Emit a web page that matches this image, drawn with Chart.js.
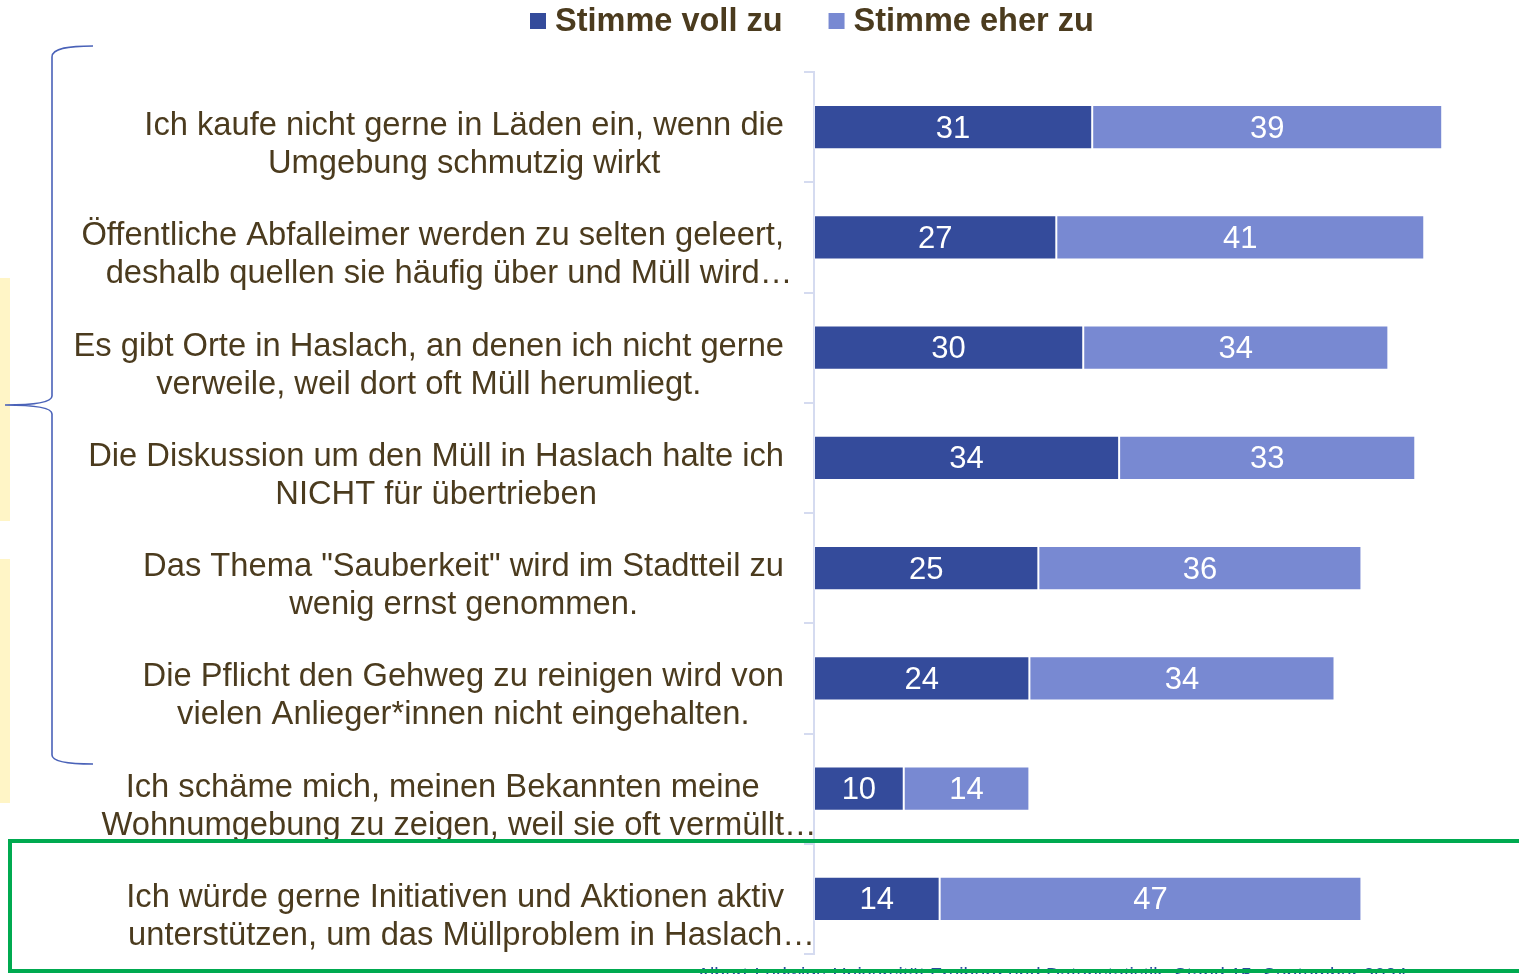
<!DOCTYPE html>
<html>
<head>
<meta charset="utf-8">
<script src="https://cdn.jsdelivr.net/npm/chart.js@4/dist/chart.umd.min.js"></script>
<style>
  body { margin: 0; background: #fff; }
  #wrap { width: 1519px; height: 974px; position: relative; }
</style>
</head>
<body>
<div id="wrap"><canvas id="chart" width="1519" height="974"></canvas></div>
<script>
var categories = [
  ["Ich kaufe nicht gerne in Läden ein, wenn die", "Umgebung schmutzig wirkt"],
  ["Öffentliche Abfalleimer werden zu selten geleert,", "deshalb quellen sie häufig über und Müll wird…"],
  ["Es gibt Orte in Haslach, an denen ich nicht gerne", "verweile, weil dort oft Müll herumliegt."],
  ["Die Diskussion um den Müll in Haslach halte ich", "NICHT für übertrieben"],
  ["Das Thema \"Sauberkeit\" wird im Stadtteil zu", "wenig ernst genommen."],
  ["Die Pflicht den Gehweg zu reinigen wird von", "vielen Anlieger*innen nicht eingehalten."],
  ["Ich schäme mich, meinen Bekannten meine", "Wohnumgebung zu zeigen, weil sie oft vermüllt…"],
  ["Ich würde gerne Initiativen und Aktionen aktiv", "unterstützen, um das Müllproblem in Haslach…"]
];
var seriesNames = ["Stimme voll zu", "Stimme eher zu"];
var vollZu = [31, 27, 30, 34, 25, 24, 10, 14];
var eherZu = [39, 41, 34, 33, 36, 34, 14, 47];
var footerText = "Albert-Ludwigs-Universität Freiburg und Datenstatistik, Stand 15. September 2024";

var FONT = '"Liberation Sans", Arial, sans-serif';
var textColor = '#4b3b1e';
var darkBlue = '#344b9b';
var lightBlue = '#7889d2';

// yellow strips + brace behind the chart
var backdrop = {
  id: 'backdrop',
  beforeDraw: function(chart) {
    var ctx = chart.ctx;
    ctx.save();
    ctx.fillStyle = '#fff5c6';
    ctx.fillRect(0, 278, 10, 243);
    ctx.fillRect(0, 559, 10, 244);

    ctx.strokeStyle = '#4a62b8';
    ctx.lineWidth = 1.6;
    ctx.beginPath();
    ctx.moveTo(93, 46);
    ctx.bezierCurveTo(70, 46, 52, 48, 52, 57);
    ctx.lineTo(52, 396);
    ctx.bezierCurveTo(52, 403, 30, 405, 5, 405);
    ctx.bezierCurveTo(30, 405, 52, 407, 52, 414);
    ctx.lineTo(52, 755);
    ctx.bezierCurveTo(52, 762, 70, 764, 93, 764);
    ctx.stroke();
    ctx.restore();
  }
};

// category labels: block right-aligned, lines centered (ellipsis hangs)
var catLabels = {
  id: 'catLabels',
  afterDraw: function(chart) {
    var ctx = chart.ctx;
    var yScale = chart.scales.y;
    var right = chart.chartArea.left - 30;
    ctx.save();
    ctx.font = '32.7px ' + FONT;
    ctx.fillStyle = textColor;
    ctx.textAlign = 'left';
    ctx.textBaseline = 'middle';
    categories.forEach(function(lines, i) {
      var cy = yScale.getPixelForValue(i);
      var widths = lines.map(function(l) { return ctx.measureText(l.replace(/…$/, '')).width; });
      var w = Math.max.apply(null, widths);
      var cx = right - w / 2;
      lines.forEach(function(l, j) {
        ctx.fillText(l, cx - widths[j] / 2, cy - 1 + j * 38);
      });
    });
    ctx.restore();
  }
};

// values inside the bars
var barValues = {
  id: 'barValues',
  afterDatasetsDraw: function(chart) {
    var ctx = chart.ctx;
    ctx.save();
    ctx.font = '31px ' + FONT;
    ctx.fillStyle = '#ffffff';
    ctx.textAlign = 'center';
    ctx.textBaseline = 'middle';
    chart.data.datasets.forEach(function(ds, di) {
      chart.getDatasetMeta(di).data.forEach(function(bar, i) {
        ctx.fillText(ds.data[i], (bar.x + bar.base) / 2, bar.y + 2);
      });
    });
    ctx.restore();
  }
};

// legend, frame and footer
var overlay = {
  id: 'overlay',
  afterDraw: function(chart) {
    var ctx = chart.ctx;
    ctx.save();
    ctx.font = 'bold 32.5px ' + FONT;
    ctx.textBaseline = 'middle';
    var x = 530;
    chart.data.datasets.forEach(function(ds) {
      ctx.fillStyle = ds.backgroundColor;
      ctx.fillRect(x, 13, 16, 16);
      ctx.fillStyle = textColor;
      ctx.fillText(ds.label, x + 25, 22);
      x += 25 + ctx.measureText(ds.label).width + 46;
    });

    ctx.font = '19.5px ' + FONT;
    ctx.fillStyle = '#2e4a9e';
    ctx.textBaseline = 'top';
    ctx.fillText(footerText, 697, 967);

    ctx.strokeStyle = '#00aa50';
    ctx.lineWidth = 4;
    ctx.strokeRect(10, 841, 1511, 130);
    ctx.restore();
  }
};

new Chart(document.getElementById('chart'), {
  type: 'bar',
  data: {
    labels: categories,
    datasets: [
      { label: seriesNames[0], data: vollZu, backgroundColor: darkBlue, borderColor: 'rgba(255,255,255,0.35)', borderWidth: 1, borderSkipped: false },
      { label: seriesNames[1], data: eherZu, backgroundColor: lightBlue, borderColor: 'rgba(255,255,255,0.35)', borderWidth: 1, borderSkipped: false }
    ]
  },
  options: {
    indexAxis: 'y',
    responsive: false,
    animation: false,
    categoryPercentage: 1,
    barPercentage: 0.4,
    layout: { padding: { left: 804, right: 5, top: 72, bottom: 20 } },
    plugins: { legend: { display: false }, tooltip: { enabled: false } },
    scales: {
      x: { stacked: true, display: false, min: 0, max: 78 },
      y: {
        stacked: true,
        grid: { drawOnChartArea: false, color: '#d5dbf0', tickLength: 10, offset: true, lineWidth: 2 },
        border: { color: '#d5dbf0', width: 2 },
        ticks: { display: false }
      }
    }
  },
  plugins: [backdrop, catLabels, barValues, overlay]
});
</script>
</body>
</html>
